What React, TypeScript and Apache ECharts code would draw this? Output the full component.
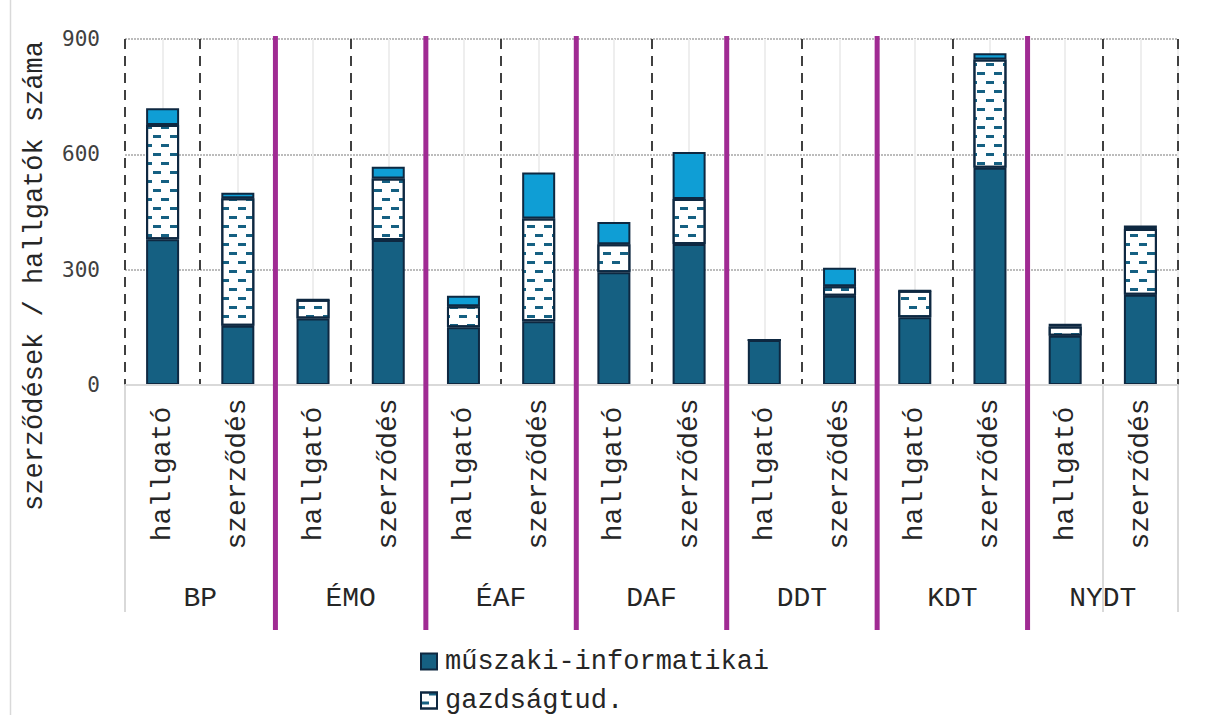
import React, { useEffect, useRef } from "react";
import * as echarts from "echarts";

const categories = [
  "hallgató", "szerződés", "hallgató", "szerződés", "hallgató", "szerződés", "hallgató",
  "szerződés", "hallgató", "szerződés", "hallgató", "szerződés", "hallgató", "szerződés",
];
const groups = ["BP", "ÉMO", "ÉAF", "DAF", "DDT", "KDT", "NYDT"];
const muszaki = [379, 154, 173, 377, 150, 166, 293, 367, 117, 232, 176, 565, 128, 235];
const gazdasag = [297, 332, 49, 160, 55, 267, 73, 117, 0, 25, 69, 282, 24, 171];
const egyeb = [44, 14, 0, 31, 27, 120, 58, 122, 0, 48, 0, 16, 7, 9];
const yTicks = { min: 0, max: 900, interval: 300 };
const seriesNames = ["műszaki-informatikai", "gazdságtud.", "egyéb"];
const yTitle = "szerződések / hallgatók száma";

const MONO = "'Liberation Mono', 'Courier New', monospace";

export default function App() {
  const ref = useRef<HTMLDivElement>(null);
  useEffect(() => {
    document.body.style.margin = "0";
    const chart = echarts.init(ref.current!, null, { renderer: "svg" });
    const border = "#0E2841";
    const half = Array.from({ length: 28 }, () => "");
    const legendBase = {
      orient: "vertical",
      left: 420,
      padding: 0,
      itemWidth: 16,
      itemHeight: 16,
      icon: "rect",
      textStyle: { fontFamily: MONO, fontSize: 27, color: "#262626", padding: [0, 0, 0, 3] },
    };
    chart.setOption({
      animation: false,
      grid: { left: 125, right: 31, top: 39, bottom: 330 },
      xAxis: [
        {
          type: "category",
          data: categories,
          position: "bottom",
          axisLine: { show: true, lineStyle: { color: "#d9d9d9", width: 2 } },
          axisTick: { show: true, interval: 1, length: 227, lineStyle: { color: "#d9d9d9", width: 2 } },
          axisLabel: {
            interval: 0,
            rotate: 90,
            align: "center",
            verticalAlign: "middle",
            margin: 89,
            fontFamily: MONO,
            fontSize: 28,
            color: "#262626",
          },
          splitLine: { show: true, interval: 0, lineStyle: { type: [10, 7], color: "#404040", width: 2 } },
          z: 3,
        },
        {
          type: "category",
          data: groups,
          position: "bottom",
          offset: 191,
          axisLine: { show: false },
          axisTick: { show: false },
          axisLabel: { interval: 0, margin: 8, fontFamily: MONO, fontSize: 28, color: "#262626" },
          splitLine: { show: false },
        },
        {
          type: "category",
          data: half,
          position: "top",
          axisLine: { show: false },
          axisTick: { show: false },
          axisLabel: { show: false },
          splitLine: {
            show: true,
            interval: (idx: number) => idx % 2 === 1,
            lineStyle: { color: "#eeeeee", width: 2 },
          },
        },
      ],
      yAxis: {
        type: "value",
        min: yTicks.min,
        max: yTicks.max,
        interval: yTicks.interval,
        axisLine: { show: false },
        axisTick: { show: false },
        axisLabel: { margin: 25, fontFamily: "'DejaVu Sans Mono', monospace", fontSize: 21, color: "#404040" },
        splitLine: { lineStyle: { type: [2, 1], color: "#a6a6a6", width: 1.5 } },
      },
      legend: [
        { ...legendBase, data: [seriesNames[0]], top: 648 },
        { ...legendBase, data: [seriesNames[1]], top: 687 },
      ],
      series: [
        {
          name: seriesNames[0],
          type: "bar",
          stack: "a",
          barWidth: 33,
          data: muszaki,
          itemStyle: { color: "#156082", borderColor: border, borderWidth: 2 },
        },
        {
          name: seriesNames[1],
          type: "bar",
          stack: "a",
          barWidth: 33,
          data: gazdasag,
          itemStyle: {
            color: "#ffffff",
            borderColor: border,
            borderWidth: 2,
            decal: {
              symbol: "rect",
              symbolSize: 1,
              color: "#156082",
              dashArrayX: [[8, 9], [0, 8, 8, 1]],
              dashArrayY: [3, 6],
              rotation: 0,
            },
          },
        },
        {
          name: seriesNames[2],
          type: "bar",
          stack: "a",
          barWidth: 33,
          data: egyeb,
          itemStyle: { color: "#0F9ED5", borderColor: border, borderWidth: 2 },
        },
      ],
    });

    const lines: any[] = [];
    for (let k = 1; k < groups.length; k++) {
      const a = chart.convertToPixel({ xAxisIndex: 0 }, 2 * k - 1) as number;
      const b = chart.convertToPixel({ xAxisIndex: 0 }, 2 * k) as number;
      const x = (a + b) / 2;
      lines.push({
        type: "line",
        shape: { x1: x, y1: 36, x2: x, y2: 630 },
        style: { stroke: "#A02B93", lineWidth: 5 },
        z: 10,
      });
    }
    chart.setOption({
      graphic: [
        { type: "line", shape: { x1: 10.5, y1: 0, x2: 10.5, y2: 715 }, style: { stroke: "#d9d9d9", lineWidth: 1.5 } },
        {
          type: "text",
          x: 35,
          y: 276,
          rotation: Math.PI / 2,
          style: {
            text: yTitle,
            fontFamily: MONO,
            fontSize: 27,
            fill: "#262626",
            align: "center",
            verticalAlign: "middle",
          },
        },
        ...lines,
      ],
    });
    return () => chart.dispose();
  }, []);
  return <div ref={ref} style={{ width: 1209, height: 715 }} />;
}
